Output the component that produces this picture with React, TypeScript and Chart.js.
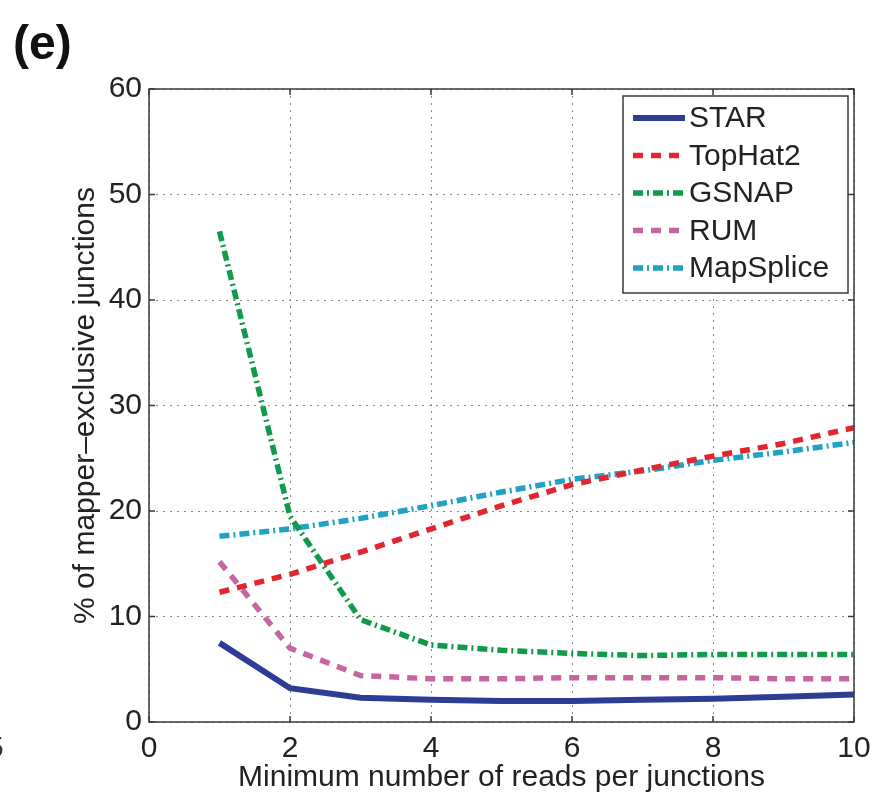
import React, { useEffect, useRef } from "react";
import { Chart, registerables } from "chart.js";

Chart.register(...registerables);

// Minimum number of reads per junction (x axis)
const minReads = [1, 2, 3, 4, 5, 6, 7, 8, 9, 10];

// % of mapper-exclusive junctions per aligner
const starPct = [7.5, 3.2, 2.3, 2.1, 2.0, 2.0, 2.1, 2.2, 2.4, 2.6];
const tophat2Pct = [12.3, 14.0, 16.1, 18.3, 20.5, 22.5, 23.9, 25.2, 26.4, 27.9];
const gsnapPct = [46.5, 19.5, 9.7, 7.3, 6.8, 6.5, 6.3, 6.4, 6.4, 6.4];
const rumPct = [15.2, 7.0, 4.4, 4.1, 4.1, 4.2, 4.2, 4.2, 4.1, 4.1];
const mapsplicePct = [17.6, 18.3, 19.3, 20.5, 21.8, 23.0, 23.8, 24.8, 25.6, 26.5];

const seriesNames = ["STAR", "TopHat2", "GSNAP", "RUM", "MapSplice"];
const seriesColors = ["#2e3c96", "#e2262f", "#0f9a4c", "#c566a2", "#1fa2c4"];
const seriesDashes: number[][] = [[], [10, 8], [10, 4, 2, 4], [10, 8], [10, 4, 2, 4]];
const seriesWidths = [6, 5.5, 5.5, 5.5, 5.5];

const xTickValues = [0, 2, 4, 6, 8, 10];
const yTickValues = [0, 10, 20, 30, 40, 50, 60];

const xTitle = "Minimum number of reads per junctions";
const yTitle = "% of mapper\u2013exclusive junctions";

const FONT = "'Liberation Sans', Arial, Helvetica, sans-serif";
const FONT_SIZE = 30;
const TEXT = "#222222";
const AXIS = "#3a3a3a";

// Box around the plot area with inward tick marks (on all four sides)
const boxPlugin = {
  id: "axesBox",
  afterDatasetsDraw(chart: any) {
    const { ctx, chartArea: a, scales } = chart;
    ctx.save();
    ctx.strokeStyle = AXIS;
    ctx.lineWidth = 1.5;
    ctx.setLineDash([]);
    ctx.strokeRect(a.left, a.top, a.right - a.left, a.bottom - a.top);
    const tl = 6;
    ctx.beginPath();
    xTickValues.forEach((v) => {
      const px = scales.x.getPixelForValue(v);
      ctx.moveTo(px, a.bottom);
      ctx.lineTo(px, a.bottom - tl);
      ctx.moveTo(px, a.top);
      ctx.lineTo(px, a.top + tl);
    });
    yTickValues.forEach((v) => {
      const py = scales.y.getPixelForValue(v);
      ctx.moveTo(a.left, py);
      ctx.lineTo(a.left + tl, py);
      ctx.moveTo(a.right, py);
      ctx.lineTo(a.right - tl, py);
    });
    ctx.stroke();
    ctx.restore();
  },
};

// Legend box in the upper right corner, with line samples in each dash style
const legendPlugin = {
  id: "boxLegend",
  afterDraw(chart: any) {
    const { ctx, chartArea: a } = chart;
    const boxW = 225;
    const boxH = 197;
    const bx = a.right - 6 - boxW;
    const by = a.top + 7;
    ctx.save();
    ctx.fillStyle = "#ffffff";
    ctx.fillRect(bx, by, boxW, boxH);
    ctx.strokeStyle = AXIS;
    ctx.lineWidth = 1.5;
    ctx.setLineDash([]);
    ctx.strokeRect(bx, by, boxW, boxH);
    ctx.font = `${FONT_SIZE}px ${FONT}`;
    ctx.textBaseline = "middle";
    ctx.textAlign = "left";
    chart.data.datasets.forEach((ds: any, i: number) => {
      const cy = by + 22 + i * 37.5;
      ctx.beginPath();
      ctx.strokeStyle = ds.borderColor;
      ctx.lineWidth = ds.borderWidth;
      ctx.setLineDash(ds.borderDash || []);
      ctx.moveTo(bx + 10, cy);
      ctx.lineTo(bx + 62, cy);
      ctx.stroke();
      ctx.setLineDash([]);
      ctx.fillStyle = TEXT;
      ctx.fillText(ds.label, bx + 66, cy + 1);
    });
    ctx.restore();
  },
};

export default function App() {
  const canvasRef = useRef<HTMLCanvasElement | null>(null);

  useEffect(() => {
    if (!canvasRef.current) return;
    const allSeries = [starPct, tophat2Pct, gsnapPct, rumPct, mapsplicePct];
    const chart = new Chart(canvasRef.current, {
      type: "line",
      data: {
        datasets: allSeries.map((vals, i) => ({
          label: seriesNames[i],
          data: minReads.map((x, j) => ({ x, y: vals[j] })),
          borderColor: seriesColors[i],
          backgroundColor: seriesColors[i],
          borderWidth: seriesWidths[i],
          borderDash: seriesDashes[i],
          pointRadius: 0,
          tension: 0,
          fill: false,
        })),
      },
      options: {
        animation: false,
        responsive: false,
        maintainAspectRatio: false,
        layout: { padding: { top: 89, right: 26, left: 0, bottom: 0 } },
        plugins: { legend: { display: false }, tooltip: { enabled: false } },
        scales: {
          x: {
            type: "linear",
            min: 0,
            max: 10,
            afterFit: (s: any) => {
              s.height = 75;
            },
            afterBuildTicks: (s: any) => {
              s.ticks = xTickValues.map((v) => ({ value: v }));
            },
            ticks: {
              color: TEXT,
              font: { family: FONT, size: FONT_SIZE },
              padding: 9,
              maxRotation: 0,
            },
            grid: { color: "#8a8a8a", lineWidth: 1, drawTicks: false },
            border: { display: false, dash: [2, 5] },
            title: {
              display: true,
              text: xTitle,
              color: TEXT,
              font: { family: FONT, size: FONT_SIZE },
              padding: { top: 0, bottom: 1 },
            },
          },
          y: {
            type: "linear",
            min: 0,
            max: 60,
            afterFit: (s: any) => {
              s.width = 149;
            },
            afterBuildTicks: (s: any) => {
              s.ticks = yTickValues.map((v) => ({ value: v }));
            },
            ticks: {
              color: TEXT,
              font: { family: FONT, size: FONT_SIZE },
              padding: 7,
            },
            grid: { color: "#8a8a8a", lineWidth: 1, drawTicks: false },
            border: { display: false, dash: [2, 5] },
            title: {
              display: true,
              text: yTitle,
              color: TEXT,
              font: { family: FONT, size: FONT_SIZE },
              padding: { top: 68, bottom: 0 },
            },
          },
        },
      },
      plugins: [boxPlugin, legendPlugin],
    });
    return () => chart.destroy();
  }, []);

  return (
    <div
      style={{
        position: "fixed",
        left: 0,
        top: 0,
        width: 880,
        height: 797,
        background: "#ffffff",
        overflow: "hidden",
      }}
    >
      <canvas ref={canvasRef} width={880} height={797} style={{ display: "block" }} />
      <span
        style={{
          position: "absolute",
          left: 13,
          top: 19,
          fontFamily: FONT,
          fontWeight: "bold",
          fontSize: 48,
          color: "#111",
          lineHeight: 1,
        }}
      >
        (e)
      </span>
      <span
        style={{
          position: "absolute",
          left: -13,
          top: 732,
          fontFamily: FONT,
          fontSize: FONT_SIZE,
          color: "#333",
          lineHeight: 1,
        }}
      >
        5
      </span>
    </div>
  );
}
